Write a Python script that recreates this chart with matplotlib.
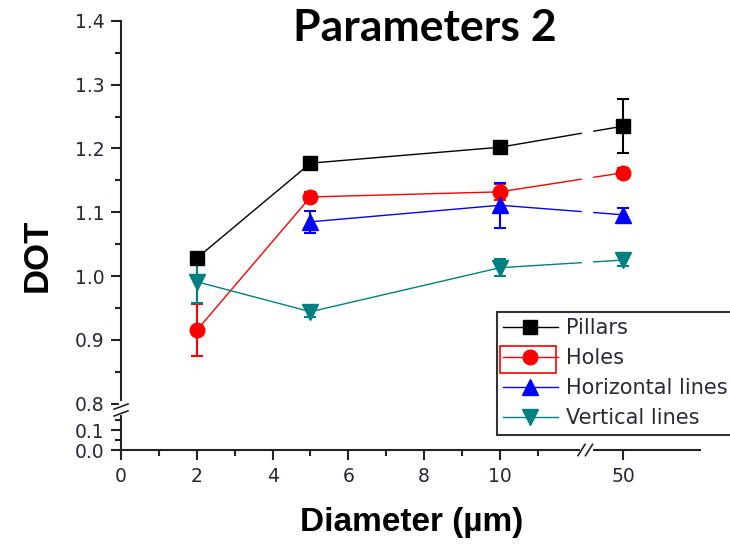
import numpy as np
import matplotlib
matplotlib.use('Agg')
import matplotlib.pyplot as plt
from matplotlib.lines import Line2D
from matplotlib.patches import Rectangle

# data
x_all = [2, 5, 10, 50]
x_horiz = [5, 10, 50]

pillars = [1.028, 1.177, 1.202, 1.235]
pillars_err = [0.008, 0.008, 0.006, 0.042]
holes = [0.915, 1.124, 1.132, 1.162]
holes_err = [0.041, 0.008, 0.012, 0.008]
horizontal = [1.085, 1.111, 1.096]
horizontal_err = [0.017, 0.035, 0.010]
vertical = [0.991, 0.944, 1.013, 1.025]
vertical_err = [0.034, 0.008, 0.013, 0.010]

x_ticks = [0, 2, 4, 6, 8, 10, 50]
x_minor = [1, 3, 5, 7, 9, 11]
y_ticks = [0.0, 0.1, 0.8, 0.9, 1.0, 1.1, 1.2, 1.3, 1.4]
y_minor = [0.05, 0.15, 0.85, 0.95, 1.05, 1.15, 1.25, 1.35]

# broken axes done with piecewise linear scales
XB_DATA = [0, 12, 45, 70]
XB_POS = [0, 12, 12.55, 16.05]
YB_DATA = [0, 0.15, 0.8, 1.5]
YB_POS = [0.7271, 0.7741, 0.8, 1.5]


def x_fwd(v):
    return np.interp(v, XB_DATA, XB_POS)


def x_inv(v):
    return np.interp(v, XB_POS, XB_DATA)


def y_fwd(v):
    return np.interp(v, YB_DATA, YB_POS)


def y_inv(v):
    return np.interp(v, YB_POS, YB_DATA)


fig = plt.figure(figsize=(7.3, 5.45), dpi=100)
ax = fig.add_axes([0.1658, 0.1743, 0.7931, 0.7872])
ax.set_xscale('function', functions=(x_fwd, x_inv))
ax.set_yscale('function', functions=(y_fwd, y_inv))

series = [
    (x_all, pillars, pillars_err, 'black', 's', 'Pillars', 10),
    (x_all, holes, holes_err, 'red', 'o', 'Holes', 10.5),
    (x_horiz, horizontal, horizontal_err, 'blue', '^', 'Horizontal lines', 11),
    (x_all, vertical, vertical_err, '#008080', 'v', 'Vertical lines', 11),
]
handles = []
for xs, ys, es, c, m, lab, ms in series:
    ax.errorbar(xs, ys, yerr=es, color=c, marker=m, markersize=ms, lw=1,
                elinewidth=1.5, capsize=4, capthick=1.5)
    handles.append(Line2D([], [], color=c, marker=m, markersize=ms, lw=1, label=lab))

ax.set_xlim(0, 64.5)
ax.set_ylim(0, 1.4)

ax.set_xticks(x_ticks)
ax.set_xticklabels([str(t) for t in x_ticks])
ax.set_xticks(x_minor, minor=True)
ax.set_yticks(y_ticks)
ax.set_yticklabels(['%.1f' % t for t in y_ticks])
ax.set_yticks(y_minor, minor=True)

for s in ['top', 'right']:
    ax.spines[s].set_visible(False)
for s in ['left', 'bottom']:
    ax.spines[s].set_linewidth(1.5)
    ax.spines[s].set_color('#222222')

ax.tick_params(which='major', direction='out', length=7, width=1.5,
               labelsize=13.5, labelcolor='#262638', color='#222222', pad=5)
ax.tick_params(which='minor', direction='out', length=4, width=1.5, color='#222222')

# gaps for the axis breaks
ax.axvspan(21.6, 37.2, color='white', zorder=2.5)
bx = 12.29 / 15.28
ax.plot([bx - 0.008, bx + 0.008], [0, 0], color='white', lw=3,
        transform=ax.transAxes, clip_on=False, zorder=5)
for dx in (-0.009, 0.004):
    ax.plot([bx + dx - 0.006, bx + dx + 0.006], [-0.013, 0.013], color='#222222',
            lw=1.2, transform=ax.transAxes, clip_on=False, zorder=6)
by = (0.7925 - 0.7271) / (1.4 - 0.7271)
ax.plot([0, 0], [by - 0.012, by + 0.012], color='white', lw=3,
        transform=ax.transAxes, clip_on=False, zorder=5)
for dy in (-0.012, 0.004):
    ax.plot([-0.012, 0.012], [by + dy - 0.006, by + dy + 0.006], color='#222222',
            lw=1.2, transform=ax.transAxes, clip_on=False, zorder=6)

leg = ax.legend(handles=handles, loc='upper left', bbox_to_anchor=(0.681, 0.4275),
                bbox_transform=fig.transFigure, frameon=True, fancybox=False,
                borderpad=0.3, labelspacing=0.48, handlelength=2.6,
                handletextpad=0.4, borderaxespad=0,
                prop={'family': 'DejaVu Sans', 'size': 15})
leg.get_frame().set_edgecolor('black')
leg.get_frame().set_linewidth(1.5)
for t in leg.get_texts():
    t.set_color('#2a2a3a')

# red selection box around the Holes key, as in the source image
fig.patches.append(Rectangle((500 / 730, 1 - 373 / 545), 56 / 730, 27 / 545,
                             transform=fig.transFigure, fill=False,
                             edgecolor='red', lw=1.2, zorder=10))

fig.text(0.582, 0.949, 'Parameters 2', ha='center', va='center',
         fontsize=32, fontweight='bold', family='Lato')
fig.text(0.051, 0.532, 'DOT', rotation=90, ha='center', va='center',
         fontsize=25, fontweight='bold', family='Liberation Sans')
fig.text(0.564, 0.042, 'Diameter (\u00b5m)', ha='center', va='center',
         fontsize=24, fontweight='bold', family='Liberation Sans')

fig.savefig('out.png', dpi=100)
